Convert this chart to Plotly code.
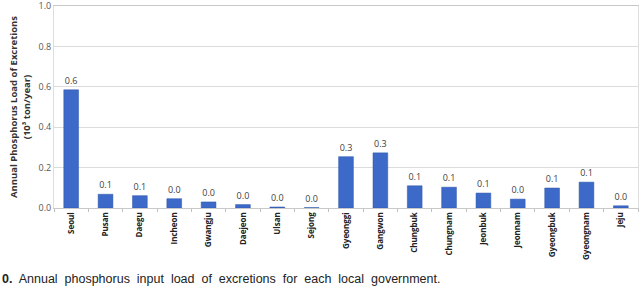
import plotly.graph_objects as go

regions = ["Seoul", "Pusan", "Daegu", "Incheon", "Gwangju", "Daejeon", "Ulsan", "Sejong",
           "Gyeonggi", "Gangwon", "Chungbuk", "Chungnam", "Jeonbuk", "Jeonnam",
           "Gyeongbuk", "Gyeongnam", "Jeju"]
loads = [0.585, 0.068, 0.061, 0.046, 0.030, 0.017, 0.005, 0.002,
         0.254, 0.273, 0.110, 0.103, 0.074, 0.044, 0.099, 0.128, 0.011]
y_ticks = [0.0, 0.2, 0.4, 0.6, 0.8, 1.0]

fig = go.Figure(go.Bar(
    x=regions, y=loads,
    marker=dict(color="#3d69c9", line=dict(color="#2f56a8", width=0.5)),
    texttemplate="%{y:.1f}", textposition="outside",
    textfont=dict(size=9, color="#404040", family="Open Sans"),
    cliponaxis=False,
))

fig.update_layout(
    width=642, height=300,
    margin=dict(l=54, r=4, t=6, b=92, autoexpand=False),
    plot_bgcolor="white", paper_bgcolor="white",
    bargap=0.57, showlegend=False,
    font=dict(family="Open Sans", color="#404040"),
    xaxis=dict(
        tickangle=-90, tickfont=dict(size=8, color="#222", family="Open Sans"),
        showline=True, linecolor="#c8c8c8", linewidth=1, mirror=True,
        ticks="outside", tickson="boundaries", ticklen=3, tickcolor="#c0c0c0",
        showgrid=False, automargin=False,
        ticktext=["<b>%s</b>" % r for r in regions], tickvals=regions,
    ),
    yaxis=dict(
        range=[0, 1.0], tickvals=y_ticks, tickformat=".1f",
        tickfont=dict(size=9, color="#555"), ticklabeloverflow="allow",
        showgrid=True, gridcolor="#dcdcdc", gridwidth=1,
        zeroline=False, showline=True, linecolor="#dedede", linewidth=1, mirror=True,
        automargin=False,
        title=dict(text="<b>Annual Phosphorus Load of Excretions<br>(10³ ton/year)</b>",
                   font=dict(size=9.5, color="#333"), standoff=6),
    ),
    annotations=[dict(
        xref="paper", yref="paper", x=-54/584, y=-62/202, xanchor="left", yanchor="top",
        text="<b>0.</b>  Annual  phosphorus  input  load  of  excretions  for  each  local  government.",
        showarrow=False, font=dict(size=12.5, color="#222", family="Liberation Sans Narrow, Liberation Sans"),
    )],
)

fig.write_html("out.html")
